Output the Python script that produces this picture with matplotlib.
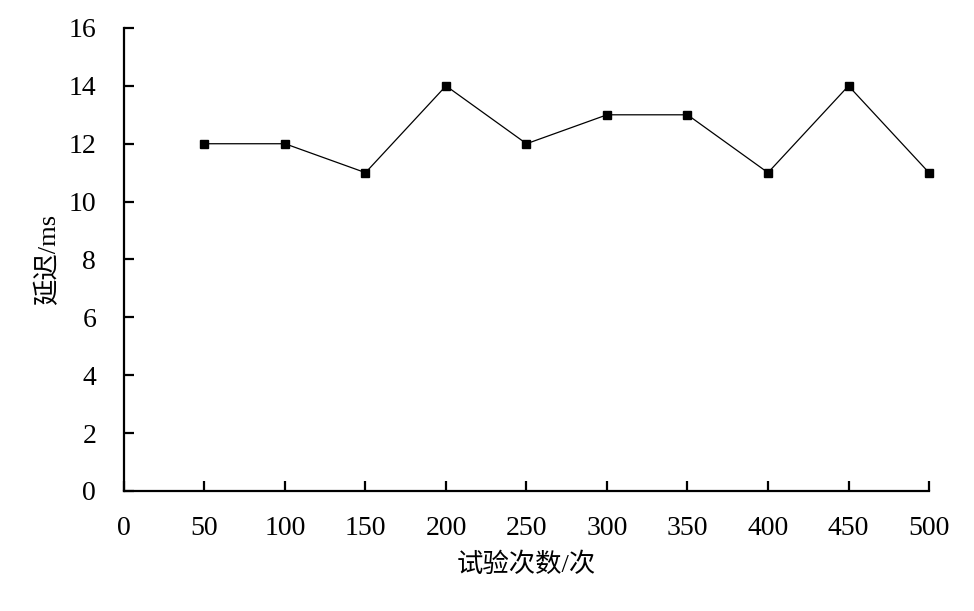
import matplotlib
matplotlib.use("Agg")
import matplotlib.pyplot as plt

# data
trials = [50, 100, 150, 200, 250, 300, 350, 400, 450, 500]
delay_ms = [12, 12, 11, 14, 12, 13, 13, 11, 14, 11]
x_ticks = [0, 50, 100, 150, 200, 250, 300, 350, 400, 450, 500]
y_ticks = [0, 2, 4, 6, 8, 10, 12, 14, 16]

plt.rcParams["font.family"] = ["Liberation Serif", "Noto Sans CJK SC", "DejaVu Sans"]

fig = plt.figure(figsize=(9.74, 6.11), dpi=100)
ax = fig.add_axes([0.1273, 0.1964, 0.8265, 0.7578])

ax.plot(trials, delay_ms, color="black", linewidth=0.9,
        marker="s", markersize=6, markerfacecolor="black", markeredgecolor="black",
        clip_on=False)

ax.set_xlim(0, 500)
ax.set_ylim(0, 16)
ax.set_xticks(x_ticks)
ax.set_yticks(y_ticks)

for s in ["top", "right"]:
    ax.spines[s].set_visible(False)
for s in ["left", "bottom"]:
    ax.spines[s].set_linewidth(1.6)

ax.tick_params(direction="in", length=7, width=1.6, labelsize=20)
ax.tick_params(axis="x", pad=18)
ax.tick_params(axis="y", pad=20)

ax.set_xlabel("试验次数/次", fontsize=19, family=["Liberation Serif", "Noto Sans CJK SC"], labelpad=8)
ax.set_ylabel("延迟/ms", fontsize=19, family=["Liberation Serif", "Noto Sans CJK SC"], labelpad=6)

fig.savefig("out.png", dpi=100)
